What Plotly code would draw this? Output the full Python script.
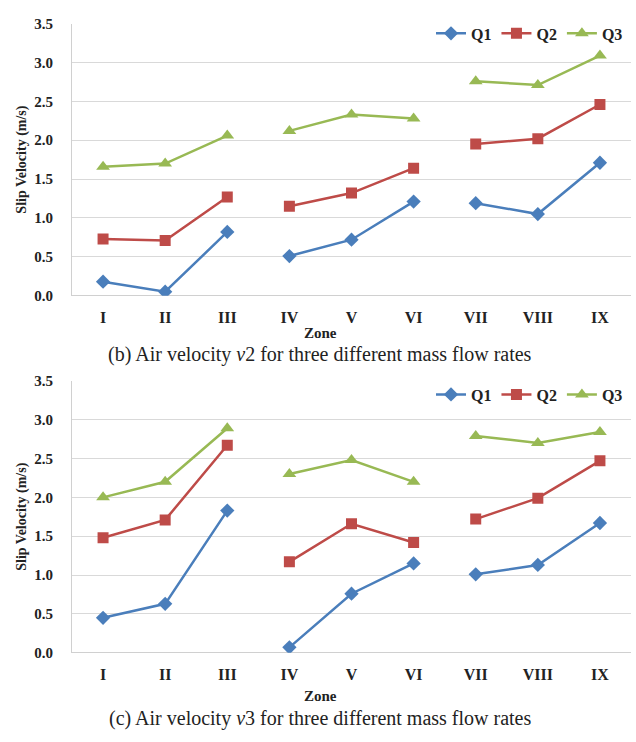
import plotly.graph_objects as go

zones = ["I", "II", "III", "IV", "V", "VI", "VII", "VIII", "IX"]

# (b) Air velocity v2
b_q1 = [0.18, 0.05, 0.82, 0.51, 0.72, 1.21, 1.19, 1.05, 1.71]
b_q2 = [0.73, 0.71, 1.27, 1.15, 1.32, 1.64, 1.95, 2.02, 2.46]
b_q3 = [1.66, 1.70, 2.06, 2.12, 2.33, 2.28, 2.76, 2.71, 3.09]

# (c) Air velocity v3
c_q1 = [0.45, 0.63, 1.83, 0.07, 0.76, 1.15, 1.01, 1.13, 1.67]
c_q2 = [1.48, 1.71, 2.67, 1.17, 1.66, 1.42, 1.72, 1.99, 2.47]
c_q3 = [2.00, 2.20, 2.89, 2.30, 2.48, 2.20, 2.79, 2.70, 2.84]

series_names = ["Q1", "Q2", "Q3"]
colors = ["#4A7EBB", "#BE4B48", "#98B954"]
symbols = ["diamond", "square", "triangle-up"]
msizes = [11, 11, 12]
groups = [(0, 3), (3, 6), (6, 9)]

W, H = 636, 742
FONT = "'Liberation Serif', 'Times New Roman', 'DejaVu Serif', serif"

fig = go.Figure()

def px_y(p):
    return 1 - p / H

def px_x(p):
    return p / W

panels = [
    dict(data=[b_q1, b_q2, b_q3], xa="x", ya="y", legend="legend",
         top=16, bot=294, caption="(b) Air velocity <i>v</i>2 for three different mass flow rates",
         zone_y=332, cap_y=354),
    dict(data=[c_q1, c_q2, c_q3], xa="x2", ya="y2", legend="legend2",
         top=381, bot=659, caption="(c) Air velocity <i>v</i>3 for three different mass flow rates",
         zone_y=703, cap_y=726),
]

for pi, p in enumerate(panels):
    for si, vals in enumerate(p["data"]):
        for gi, (a, b) in enumerate(groups):
            fig.add_trace(go.Scatter(
                x=zones[a:b], y=vals[a:b], mode="lines+markers",
                name=series_names[si], legendgroup=f"{pi}-{si}",
                showlegend=(gi == 0), legend=p["legend"],
                line=dict(color=colors[si], width=2.5),
                marker=dict(symbol=symbols[si], size=msizes[si], color=colors[si]),
                xaxis=p["xa"], yaxis=p["ya"],
            ))

axis_common_x = dict(
    type="category", categoryorder="array", categoryarray=zones,
    range=[-0.5, 8.5], showgrid=False, showline=False, zeroline=False,
    tickfont=dict(family=FONT, size=16, color="#222", weight="bold"),
    ticks="", ticklabelstandoff=10,
)
axis_common_y = dict(
    range=[0, 3.5], dtick=0.5, tickformat=".1f", showgrid=True,
    gridcolor="#D9D9D9", gridwidth=1, zeroline=True, zerolinecolor="#D0D0D0",
    zerolinewidth=1, showline=True, linecolor="#D0D0D0", linewidth=1,
    tickfont=dict(family=FONT, size=15, color="#222", weight="bold"),
    ticks="", ticklabelstandoff=15,
)

xdom = [px_x(72), px_x(631)]
leg_font = dict(family=FONT, size=16, color="#222", weight="bold")
fig.update_layout(
    width=W, height=H, margin=dict(l=0, r=0, t=0, b=0),
    paper_bgcolor="white", plot_bgcolor="white",
    xaxis=dict(domain=xdom, anchor="y", **axis_common_x),
    yaxis=dict(domain=[px_y(panels[0]["bot"]), px_y(panels[0]["top"])], anchor="x", **axis_common_y),
    xaxis2=dict(domain=xdom, anchor="y2", **axis_common_x),
    yaxis2=dict(domain=[px_y(panels[1]["bot"]), px_y(panels[1]["top"])], anchor="x2", **axis_common_y),
    legend=dict(orientation="h", x=px_x(628), xanchor="right", y=px_y(26), yanchor="middle",
                font=leg_font, bgcolor="rgba(0,0,0,0)", itemwidth=30, tracegroupgap=0),
    legend2=dict(orientation="h", x=px_x(628), xanchor="right", y=px_y(395), yanchor="middle",
                 font=leg_font, bgcolor="rgba(0,0,0,0)", itemwidth=30, tracegroupgap=0),
    showlegend=True,
)

anns = []
for p in panels:
    mid = (p["top"] + p["bot"]) / 2
    anns.append(dict(text="<b>Slip Velocity (m/s)</b>", x=px_x(22), y=px_y(mid), xref="paper", yref="paper",
                     textangle=-90, showarrow=False, xanchor="center", yanchor="middle",
                     font=dict(family=FONT, size=14, color="#222")))
    anns.append(dict(text="<b>Zone</b>", x=px_x(320), y=px_y(p["zone_y"]), xref="paper", yref="paper",
                     showarrow=False, xanchor="center", yanchor="middle",
                     font=dict(family=FONT, size=15, color="#222")))
    anns.append(dict(text=p["caption"], x=px_x(320), y=px_y(p["cap_y"]), xref="paper", yref="paper",
                     showarrow=False, xanchor="center", yanchor="middle",
                     font=dict(family=FONT, size=20, color="#222")))
fig.update_layout(annotations=anns)

fig.write_html("out.html")
